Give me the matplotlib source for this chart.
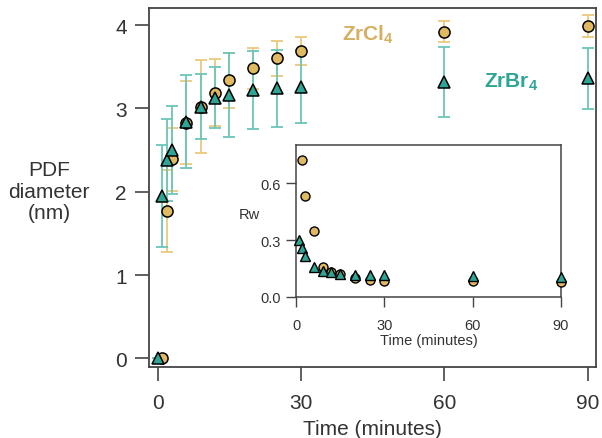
import matplotlib
matplotlib.use("Agg")
from matplotlib import pyplot as plt

plt.rcParams['font.family'] = ['Liberation Sans', 'DejaVu Sans']
plt.rcParams['mathtext.fontset'] = 'custom'
plt.rcParams['mathtext.rm'] = 'Liberation Sans'
plt.rcParams['mathtext.bf'] = 'Liberation Sans:bold'

# ZrCl4 (circles)
cl_time = [1, 2, 3, 6, 9, 12, 15, 20, 25, 30, 60, 90]
cl_diam = [0.0, 1.77, 2.39, 2.83, 3.02, 3.19, 3.34, 3.48, 3.60, 3.69, 3.92, 3.99]
cl_err = [0.0, 0.49, 0.38, 0.50, 0.56, 0.40, 0.33, 0.25, 0.21, 0.17, 0.125, 0.135]

# ZrBr4 (triangles)
br_time = [0, 1, 2, 3, 6, 9, 12, 15, 20, 25, 30, 60, 90]
br_diam = [0.0, 1.95, 2.38, 2.50, 2.84, 3.02, 3.13, 3.16, 3.22, 3.24, 3.26, 3.32, 3.36]
br_err = [0.0, 0.61, 0.49, 0.53, 0.56, 0.39, 0.37, 0.50, 0.47, 0.46, 0.44, 0.42, 0.37]

# inset Rw values
cl_rw_time = [2, 3, 6, 9, 12, 15, 20, 25, 30, 60, 90]
cl_rw = [0.72, 0.53, 0.345, 0.16, 0.13, 0.12, 0.098, 0.09, 0.086, 0.083, 0.08]
br_rw_time = [1, 2, 3, 6, 9, 12, 15, 20, 25, 30, 60, 90]
br_rw = [0.30, 0.26, 0.215, 0.16, 0.135, 0.13, 0.12, 0.115, 0.115, 0.118, 0.11, 0.107]

gold = '#E0B963'
gold_err = '#EBC97C'
gold_txt = '#D6B062'
teal = '#2FA595'
teal_err = '#6CC6B9'
spine_col = '#444444'
txt_col = '#333333'

fig = plt.figure(figsize=(6.02, 4.39), dpi=100)
ax = fig.add_axes([0.2475, 0.1617, 0.7425, 0.8178])

ax.errorbar(cl_time, cl_diam, yerr=cl_err, fmt='none', ecolor=gold_err,
            elinewidth=1.3, capsize=4, capthick=1.3, zorder=2)
ax.errorbar(br_time, br_diam, yerr=br_err, fmt='none', ecolor=teal_err,
            elinewidth=1.3, capsize=4, capthick=1.3, zorder=3)
ax.plot(cl_time, cl_diam, 'o', ms=8, mfc=gold, mec='black', mew=1.1, zorder=4)
ax.plot(br_time, br_diam, '^', ms=9, mfc=teal, mec='black', mew=1.1, zorder=5)

ax.set_xlim(-1.8, 91.7)
ax.set_ylim(-0.104, 4.205)
ax.set_xticks([0, 30, 60, 90])
ax.set_yticks([0, 1, 2, 3, 4])
ax.tick_params(direction='out', length=10, width=1.2, colors=spine_col,
               labelsize=15, labelcolor=txt_col, pad=6)
ax.tick_params(axis='x', pad=9)
for s in ax.spines.values():
    s.set_color(spine_col)
    s.set_linewidth(1.3)

ax.set_xlabel('Time (minutes)', fontsize=15, color=txt_col, labelpad=5)
ax.set_ylabel('PDF\ndiameter\n(nm)', fontsize=15, color=txt_col, rotation=0,
              ha='center', va='center', linespacing=1.15)
ax.yaxis.set_label_coords(-0.224, 0.49)

ax.text(38.6, 3.89, r'$\mathbf{ZrCl_4}$', color=gold_txt, fontsize=15,
        ha='left', va='center')
ax.text(68.2, 3.33, r'$\mathbf{ZrBr_4}$', color=teal, fontsize=15,
        ha='left', va='center')

# inset
ins = fig.add_axes([0.4917, 0.3212, 0.4402, 0.3462])
ins.plot(cl_rw_time, cl_rw, 'o', ms=6.5, mfc=gold, mec='black', mew=1.0, zorder=4)
ins.plot(br_rw_time, br_rw, '^', ms=7.5, mfc=teal, mec='black', mew=1.0, zorder=5)
ins.set_xlim(0, 90)
ins.set_ylim(0, 0.80)
ins.set_xticks([0, 30, 60, 90])
ins.set_yticks([0.0, 0.3, 0.6])
ins.set_yticklabels(['0.0', '0.3', '0.6'])
ins.tick_params(direction='out', length=7, width=1.0, colors=spine_col,
                labelsize=10.5, labelcolor=txt_col, pad=4)
ins.tick_params(axis='x', pad=8)
for s in ins.spines.values():
    s.set_color(spine_col)
    s.set_linewidth(1.1)
ins.set_xlabel('Time (minutes)', fontsize=10.5, color=txt_col, labelpad=1)
ins.set_ylabel('Rw', fontsize=10.5, color=txt_col, rotation=0,
               ha='center', va='center')
ins.yaxis.set_label_coords(-0.177, 0.546)
for line in ins.lines:
    line.set_clip_on(False)

fig.savefig('out.png', dpi=100)
